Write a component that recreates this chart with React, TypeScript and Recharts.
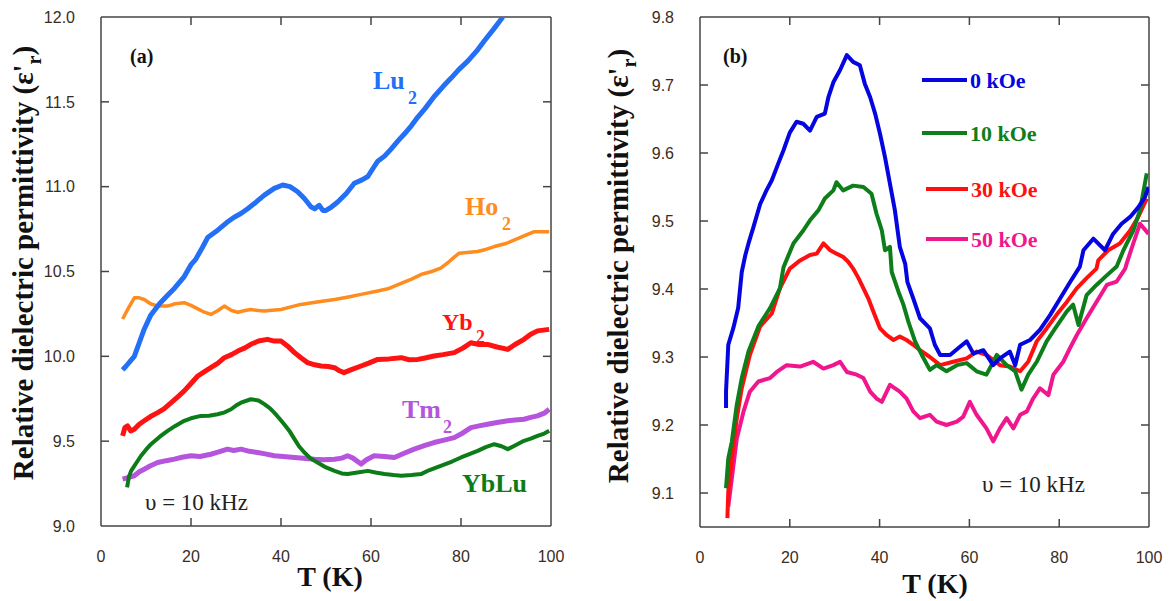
import React from 'react';
import { LineChart, Line, XAxis, YAxis, ReferenceLine } from 'recharts';

// ---------- Panel (a) data: [T (K), eps'_r] ----------
const LU2: [number, number][] = [
  [4.8, 9.92], [5.5, 9.94], [7.4, 10.0], [8.5, 10.08], [9.6, 10.16], [11, 10.24], [13, 10.31], [14.8, 10.36],
  [16.3, 10.4], [18.5, 10.47], [20, 10.54], [21, 10.57], [22.5, 10.64], [23.7, 10.7], [26, 10.745], [28, 10.79],
  [29.6, 10.82], [31, 10.84], [32.6, 10.87], [34.5, 10.91], [36.3, 10.95], [38.5, 10.99], [40.4, 11.01], [42, 11.0],
  [43.7, 10.97], [45.2, 10.93], [46.7, 10.88], [47.5, 10.87], [48.5, 10.89], [49.3, 10.86], [50, 10.86], [51.2, 10.88],
  [52.6, 10.91], [54.5, 10.96], [56.3, 11.02], [58, 11.04], [59.3, 11.06], [60.5, 11.11], [61.5, 11.15], [63, 11.18],
  [64.4, 11.22], [66, 11.27], [67.4, 11.31], [69, 11.36], [70.4, 11.41], [72, 11.46], [74, 11.53], [76, 11.59],
  [77.8, 11.64], [79.5, 11.69], [81.5, 11.74], [83.5, 11.8], [85.2, 11.86], [87.3, 11.93], [89.3, 12.0],
];
const HO2: [number, number][] = [
  [4.8, 10.22], [6, 10.28], [7.4, 10.345], [8.5, 10.345], [9.6, 10.335], [11, 10.31], [12.6, 10.296], [14.8, 10.296],
  [16.5, 10.31], [18.5, 10.316], [20, 10.3], [21.5, 10.28], [23, 10.26], [24.4, 10.247], [26, 10.27], [27.4, 10.296],
  [29, 10.27], [30.4, 10.26], [32, 10.27], [33.3, 10.276], [35, 10.27], [36.3, 10.267], [38, 10.272], [40, 10.276],
  [42, 10.29], [44.4, 10.306], [48, 10.32], [51.9, 10.335], [55, 10.35], [57.8, 10.365], [61.5, 10.385], [64, 10.4],
  [66.7, 10.43], [69, 10.455], [71.1, 10.482], [73.5, 10.5], [75.5, 10.52], [77, 10.55], [78.5, 10.585], [79.6, 10.608],
  [83.7, 10.618], [85.5, 10.63], [87.4, 10.647], [90, 10.665], [91.9, 10.686], [94, 10.71], [96.3, 10.735], [99.6, 10.735],
];
const YB2: [number, number][] = [
  [4.8, 9.531], [5.3, 9.58], [5.9, 9.59], [6.6, 9.56], [7.4, 9.57], [8.5, 9.6], [9.6, 9.62], [11, 9.645],
  [12.6, 9.668], [14, 9.69], [15.6, 9.727], [17, 9.76], [18.5, 9.796], [20, 9.84], [21.5, 9.884], [23, 9.91],
  [24.4, 9.933], [26, 9.96], [27.4, 9.992], [29, 10.01], [30.4, 10.031], [32, 10.05], [33.3, 10.071], [35, 10.09],
  [37, 10.1], [38.5, 10.09], [40, 10.09], [41.5, 10.06], [43, 10.022], [44.5, 9.99], [45.9, 9.963], [47.5, 9.95],
  [48.9, 9.943], [50.5, 9.94], [51.9, 9.933], [53, 9.915], [54, 9.904], [55.5, 9.92], [57.8, 9.943], [59.5, 9.96],
  [61.5, 9.982], [64, 9.985], [66.7, 9.992], [68.5, 9.98], [70.4, 9.982], [72, 9.99], [74, 10.002], [76, 10.01],
  [78.5, 10.022], [80.5, 10.05], [82.2, 10.08], [84, 10.07], [85.9, 10.07], [88, 10.055], [90.4, 10.041], [92, 10.07],
  [94, 10.1], [95.5, 10.13], [97, 10.15], [99.6, 10.159],
];
const TM2: [number, number][] = [
  [4.8, 9.276], [6, 9.285], [7.4, 9.296], [8.5, 9.32], [9.6, 9.335], [11, 9.355], [12.6, 9.374], [14.5, 9.385],
  [16.3, 9.394], [18, 9.405], [20, 9.414], [22, 9.41], [24.4, 9.423], [26, 9.435], [28.1, 9.453], [29.5, 9.445],
  [31.1, 9.453], [33, 9.44], [34.8, 9.433], [36.5, 9.425], [38.5, 9.414], [40.5, 9.41], [43, 9.404], [45, 9.4],
  [47.4, 9.394], [49.5, 9.39], [51.9, 9.394], [53.5, 9.4], [54.8, 9.414], [56, 9.4], [57.8, 9.365], [59, 9.39],
  [60.7, 9.414], [63, 9.41], [65.2, 9.404], [67.5, 9.43], [69.6, 9.453], [72, 9.475], [74, 9.492], [76, 9.505],
  [78.5, 9.521], [80.5, 9.55], [82.2, 9.58], [84, 9.59], [85.9, 9.6], [88, 9.61], [90.4, 9.62], [92, 9.625],
  [94, 9.629], [95.5, 9.64], [97, 9.649], [98.5, 9.665], [99.6, 9.688],
];
const YBLU: [number, number][] = [
  [5.8, 9.228], [6.2, 9.29], [6.7, 9.325], [7.8, 9.37], [8.9, 9.414], [10, 9.45], [11.1, 9.482], [13, 9.525],
  [14.8, 9.561], [16.5, 9.59], [18.5, 9.62], [20, 9.635], [22.2, 9.649], [24, 9.65], [25.9, 9.659], [27.5, 9.67],
  [28.9, 9.688], [30, 9.71], [31.1, 9.727], [33.3, 9.747], [35, 9.74], [36.3, 9.718], [37.5, 9.695], [38.5, 9.668],
  [39.6, 9.635], [40.7, 9.6], [42, 9.555], [43, 9.512], [44, 9.47], [45.2, 9.433], [46.5, 9.4], [48.1, 9.374],
  [50, 9.345], [51.9, 9.325], [53.5, 9.31], [54.8, 9.306], [57, 9.315], [59.3, 9.325], [61, 9.315], [63, 9.306],
  [65, 9.3], [66.7, 9.296], [69, 9.3], [71.1, 9.306], [73, 9.33], [75.5, 9.355], [78, 9.38], [80, 9.404],
  [82, 9.425], [83.7, 9.443], [85.5, 9.465], [87.4, 9.482], [89, 9.47], [90.4, 9.453], [92, 9.475], [94, 9.502],
  [95.5, 9.515], [97, 9.531], [98.5, 9.545], [99.6, 9.561],
];

// ---------- Panel (b) data: [T (K), eps'_r] ----------
const H0: [number, number][] = [
  [5.8, 9.225], [5.8, 9.25], [6.3, 9.318], [7.4, 9.342], [8.5, 9.372], [9.3, 9.425], [10.1, 9.45], [10.8, 9.467],
  [11.9, 9.491], [13.4, 9.525], [14.8, 9.545], [16, 9.56], [17.4, 9.584], [18.6, 9.604], [20, 9.63], [21.5, 9.646],
  [23, 9.643], [24.5, 9.633], [26, 9.653], [27.8, 9.658], [28.6, 9.682], [29.7, 9.704], [31.2, 9.722], [32.7, 9.744],
  [34.1, 9.734], [35.6, 9.729], [36.7, 9.702], [37.9, 9.682], [39, 9.658], [40.1, 9.628], [41.2, 9.594], [42.3, 9.555],
  [43.4, 9.516], [44.5, 9.462], [45.7, 9.437], [46.2, 9.41], [47.5, 9.386], [49, 9.357], [51.2, 9.342], [52.3, 9.318],
  [53.5, 9.303], [55.7, 9.303], [57.9, 9.315], [59.4, 9.323], [60.9, 9.305], [63.1, 9.31], [65.3, 9.288], [66.8, 9.298],
  [69, 9.308], [70.2, 9.288], [71.3, 9.318], [73.5, 9.325], [75.7, 9.34], [78, 9.362], [80.2, 9.386], [82.4, 9.41],
  [84.6, 9.433], [85.4, 9.457], [87.6, 9.474], [90.2, 9.457], [92, 9.481], [93.9, 9.496], [95.8, 9.506], [97.6, 9.52],
  [99.1, 9.535], [99.9, 9.55],
];
const H10: [number, number][] = [
  [5.8, 9.107], [6.3, 9.151], [7.1, 9.176], [8.2, 9.23], [9.3, 9.269], [10.8, 9.308], [13, 9.345], [15.6, 9.372],
  [17.8, 9.401], [18.6, 9.432], [20.8, 9.467], [23, 9.486], [24.5, 9.501], [26.4, 9.516], [27.8, 9.533], [29.7, 9.545],
  [30.4, 9.557], [31.9, 9.545], [34.1, 9.552], [36.4, 9.55], [38.2, 9.54], [39.3, 9.511], [40.5, 9.486], [41.2, 9.457],
  [42.3, 9.462], [42.7, 9.425], [44.2, 9.396], [45.3, 9.377], [46.4, 9.352], [47.9, 9.323], [49.4, 9.303], [51.2, 9.281],
  [52.7, 9.288], [54.9, 9.279], [57.2, 9.288], [59.4, 9.291], [61.6, 9.279], [63.8, 9.274], [66.1, 9.303], [68.3, 9.288],
  [70.2, 9.279], [71.6, 9.252], [73.1, 9.274], [75, 9.293], [77.2, 9.323], [79.1, 9.342], [81.7, 9.367], [83.1, 9.377],
  [84.3, 9.347], [86.1, 9.391], [88.3, 9.406], [90.6, 9.42], [92.8, 9.433], [94.3, 9.457], [96.5, 9.486], [98, 9.516],
  [99.5, 9.57],
];
const H30: [number, number][] = [
  [6.1, 9.063], [6.3, 9.102], [7.1, 9.151], [8.2, 9.21], [9.3, 9.254], [11.1, 9.303], [13.4, 9.345], [16, 9.364],
  [17.8, 9.401], [20, 9.43], [22.3, 9.442], [24.5, 9.45], [26, 9.452], [27.5, 9.467], [29, 9.457], [30.4, 9.452],
  [31.9, 9.447], [33, 9.44], [34.1, 9.43], [35.3, 9.416], [36.4, 9.401], [37.5, 9.386], [38.6, 9.367], [40.1, 9.342],
  [41.6, 9.332], [43.1, 9.325], [44.5, 9.33], [46, 9.325], [47.5, 9.318], [49, 9.31], [51.2, 9.3], [53.5, 9.288],
  [56.4, 9.293], [59.4, 9.298], [61.6, 9.308], [63.8, 9.303], [66.8, 9.288], [69, 9.286], [71.3, 9.279], [73.1, 9.293],
  [75, 9.323], [77.2, 9.342], [79.4, 9.362], [81.7, 9.381], [83.9, 9.401], [86.1, 9.416], [88.3, 9.43], [88.7, 9.442],
  [90.9, 9.457], [93.5, 9.467], [95.8, 9.486], [97.6, 9.506], [99.5, 9.533],
];
const H50: [number, number][] = [
  [6.3, 9.08], [7.1, 9.122], [8.2, 9.18], [9.7, 9.22], [11.1, 9.249], [13, 9.264], [15.6, 9.269], [17.1, 9.278],
  [19.3, 9.288], [22.3, 9.286], [25.2, 9.293], [27.5, 9.283], [29.7, 9.288], [31.2, 9.293], [32.7, 9.278], [34.9, 9.274],
  [36.4, 9.269], [37.9, 9.249], [39.3, 9.239], [40.5, 9.234], [42.3, 9.259], [44.5, 9.249], [46, 9.239], [47.5, 9.22],
  [49, 9.21], [51.2, 9.215], [52.7, 9.205], [54.9, 9.2], [57.2, 9.205], [58.6, 9.212], [60.1, 9.234], [61.6, 9.215],
  [63.8, 9.195], [65.3, 9.176], [66.8, 9.195], [68.3, 9.21], [69.8, 9.195], [71.3, 9.215], [72.8, 9.22], [74.2, 9.239],
  [75.7, 9.254], [77.6, 9.244], [78.7, 9.274], [80.9, 9.293], [82.4, 9.313], [83.9, 9.332], [86.1, 9.357], [88.3, 9.381],
  [90.6, 9.406], [92.8, 9.411], [94.7, 9.43], [95, 9.437], [96.5, 9.467], [98, 9.496], [99.9, 9.481],
];

const X_TICKS = [0, 20, 40, 60, 80, 100];
const Y_TICKS_A = [9, 9.5, 10, 10.5, 11, 11.5, 12];
const Y_TICKS_B = [9.1, 9.2, 9.3, 9.4, 9.5, 9.6, 9.7, 9.8];
const LEGEND_B = ['0 kOe', '10 kOe', '30 kOe', '50 kOe'];

const toRows = (arr: [number, number][]) => arr.map(([T, v]) => ({ T, v }));

const AXIS = '#444';
const TICK_TEXT = { fill: '#3a2c1e', fontSize: 16, fontFamily: 'Liberation Sans, Arial, sans-serif' };
const SERIF = 'Liberation Serif, Times New Roman, Times, serif';
const TICK_LEN = 8;

// mirror tick on the top edge (vertical reference line: draw only a short stub at its top end)
const TopTick = (p: any) => {
  const top = Math.min(p.y1, p.y2);
  const bot = Math.max(p.y1, p.y2);
  return (
    <g>
      <line x1={p.x1} x2={p.x1} y1={top} y2={top + TICK_LEN} stroke={AXIS} strokeWidth={1.5} />
      <line x1={p.x1} x2={p.x1} y1={bot} y2={bot - TICK_LEN} stroke={AXIS} strokeWidth={1.5} />
    </g>
  );
};
// mirror tick on the right edge (horizontal reference line: short stub at its right end)
const RightTick = (p: any) => {
  const right = Math.max(p.x1, p.x2);
  const left = Math.min(p.x1, p.x2);
  return (
    <g>
      <line x1={right} x2={right - TICK_LEN} y1={p.y1} y2={p.y1} stroke={AXIS} strokeWidth={1.5} />
      <line x1={left} x2={left + TICK_LEN} y1={p.y1} y2={p.y1} stroke={AXIS} strokeWidth={1.5} />
    </g>
  );
};

function Panel({
  width, left, right, bottom, yDomain, yTicks, series,
}: {
  width: number; left: number; right: number; bottom: number;
  yDomain: [number, number]; yTicks: number[];
  series: { data: [number, number][]; color: string; w: number; name: string }[];
}) {
  const axisCommon = { stroke: AXIS, strokeWidth: 1.5 };
  return (
    <LineChart width={width} height={601} margin={{ top: 17, right, bottom: bottom - 1, left: left - 1 }}>
      <XAxis type="number" dataKey="T" domain={[0, 100]} ticks={X_TICKS} allowDataOverflow
        height={1} orientation="bottom" tickLine={false} tickMargin={19} tick={TICK_TEXT}
        axisLine={axisCommon} />
      <YAxis type="number" dataKey="v" domain={yDomain} ticks={yTicks} allowDataOverflow
        width={1} orientation="left" tickLine={false} tickMargin={20} tick={TICK_TEXT}
        tickFormatter={(v: number) => v.toFixed(1)}
        axisLine={axisCommon} />
      {/* frame: top and right borders */}
      <ReferenceLine x={100} stroke={AXIS} strokeWidth={1.5} />
      <ReferenceLine y={yDomain[1]} stroke={AXIS} strokeWidth={1.5} />
      {/* inward ticks on all four sides */}
      {X_TICKS.filter((t) => t > 0 && t < 100).map((t) => (
        <ReferenceLine key={`x${t}`} x={t} shape={TopTick} />
      ))}
      {yTicks.filter((t) => t > yDomain[0] && t < yDomain[1]).map((t) => (
        <ReferenceLine key={`y${t}`} y={t} shape={RightTick} />
      ))}
      {series.map((s) => (
        <Line key={s.name} name={s.name} data={toRows(s.data)} dataKey="v"
          type="linear" stroke={s.color} strokeWidth={s.w} dot={false} activeDot={false}
          isAnimationActive={false} strokeLinejoin="round" />
      ))}
    </LineChart>
  );
}

const C = {
  lu: '#2370F6', ho: '#FF8C1E', yb: '#FF1212', tm: '#B554DD', ybLu: '#0C7C18',
  b0: '#0505E0', b10: '#0E7E1A', b30: '#FF1010', b50: '#F0168E',
};

function YTitle({ x, y }: { x: number; y: number }) {
  return (
    <text x={x} y={y} transform={`rotate(-90 ${x} ${y})`} textAnchor="middle"
      style={{ fontFamily: SERIF, fontWeight: 'bold', fontSize: 29 }} fill="#111">
      Relative dielectric permittivity (ε'<tspan style={{ fontSize: 20 }} dy={8}>r</tspan><tspan dy={-8}>)</tspan>
    </text>
  );
}

function Sub({ x, y, main, sub, sx, sy, color, size = 26 }: { x: number; y: number; main: string; sub?: string; sx?: number; sy?: number; color: string; size?: number }) {
  return (
    <g fill={color} style={{ fontFamily: SERIF, fontWeight: 'bold' }}>
      <text x={x} y={y} style={{ fontSize: size }}>{main}</text>
      {sub && <text x={sx} y={sy} style={{ fontSize: 18 }}>{sub}</text>}
    </g>
  );
}

export default function App() {
  const legendY = [80, 133, 189, 239];
  const legendColors = [C.b0, C.b10, C.b30, C.b50];
  const legendLineX = [[922, 967], [922, 967], [926, 968], [926, 968]];
  const boldSerif = (size: number) => ({ fontFamily: SERIF, fontWeight: 'bold' as const, fontSize: size });
  return (
    <div style={{ position: 'fixed', left: 0, top: 0, width: 1169, height: 601, background: '#fff' }}>
      <div style={{ position: 'absolute', left: 0, top: 0 }}>
        <Panel width={580} left={101} right={29} bottom={75} yDomain={[9, 12]} yTicks={Y_TICKS_A}
          series={[
            { data: HO2, color: C.ho, w: 3.5, name: 'Ho2' },
            { data: LU2, color: C.lu, w: 5, name: 'Lu2' },
            { data: YB2, color: C.yb, w: 5, name: 'Yb2' },
            { data: TM2, color: C.tm, w: 5, name: 'Tm2' },
            { data: YBLU, color: C.ybLu, w: 4, name: 'YbLu' },
          ]} />
      </div>
      <div style={{ position: 'absolute', left: 580, top: 0 }}>
        <Panel width={589} left={120} right={20} bottom={74} yDomain={[9.05, 9.8]} yTicks={Y_TICKS_B}
          series={[
            { data: H50, color: C.b50, w: 4, name: '50 kOe' },
            { data: H30, color: C.b30, w: 4, name: '30 kOe' },
            { data: H10, color: C.b10, w: 4, name: '10 kOe' },
            { data: H0, color: C.b0, w: 4, name: '0 kOe' },
          ]} />
      </div>
      <svg width={1169} height={601} style={{ position: 'absolute', left: 0, top: 0, pointerEvents: 'none' }}>
        <YTitle x={33} y={263} />
        <YTitle x={628} y={266} />
        <text x={330} y={586} textAnchor="middle" style={boldSerif(28)} fill="#111">T (K)</text>
        <text x={935} y={593} textAnchor="middle" style={boldSerif(28)} fill="#111">T (K)</text>
        <text x={130} y={63} style={boldSerif(20)} fill="#111">(a)</text>
        <text x={723} y={63} style={boldSerif(20)} fill="#111">(b)</text>
        <Sub x={373} y={89} main="Lu" sub="2" sx={408} sy={104} color={C.lu} />
        <Sub x={465} y={215} main="Ho" sub="2" sx={502} sy={230} color={C.ho} />
        <Sub x={442} y={330} main="Yb" sub="2" sx={476} sy={343} color={C.yb} size={24} />
        <Sub x={402} y={418} main="Tm" sub="2" sx={443} sy={433} color={C.tm} />
        <Sub x={462} y={492} main="YbLu" color={C.ybLu} />
        <text x={145} y={510} style={{ fontFamily: SERIF, fontSize: 23 }} fill="#222">υ = 10 kHz</text>
        <text x={982} y={492} style={{ fontFamily: SERIF, fontSize: 23 }} fill="#222">υ = 10 kHz</text>
        {LEGEND_B.map((lab, i) => (
          <g key={lab}>
            <line x1={legendLineX[i][0]} x2={legendLineX[i][1]} y1={legendY[i]} y2={legendY[i]} stroke={legendColors[i]} strokeWidth={4} />
            <text x={legendLineX[i][1] + 3} y={legendY[i] + 8} style={boldSerif(22)} fill={legendColors[i]}>{lab}</text>
          </g>
        ))}
      </svg>
    </div>
  );
}
